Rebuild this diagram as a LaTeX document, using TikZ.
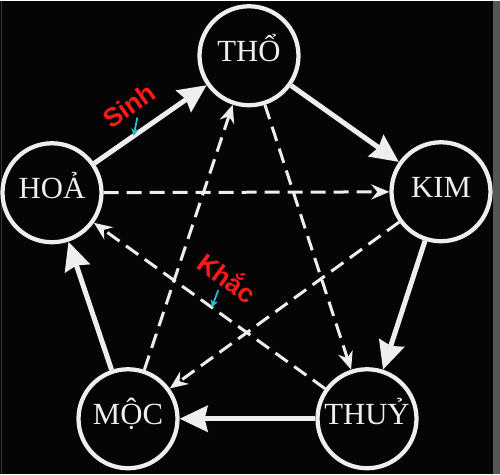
\documentclass[tikz,border=0pt]{standalone}
\usepackage{fontspec}
\setmainfont{Liberation Serif}
\newfontfamily\tagfont{Liberation Sans}
\usepackage{xcolor}
\usetikzlibrary{arrows.meta}

\definecolor{fg}{HTML}{EEEEEE}
\definecolor{bg}{HTML}{050505}
\definecolor{strip}{HTML}{565656}
\definecolor{tagred}{HTML}{FF1A1A}
\definecolor{pointcyan}{HTML}{22C4D6}

\begin{document}
\begin{tikzpicture}[x = 0.02cm, y = -0.02cm,
		element/.style = {circle, draw = fg, line width = 0.085cm, minimum size = 1.98cm, inner sep = 0pt,
			text = fg, text height = 0.66em, text depth = 0pt, font = \fontsize{17.5}{18}\selectfont},
		sinh/.style = {draw = fg, line width = 0.1cm, -{Stealth[length = 0.56cm, width = 0.52cm, inset = 0.06cm]}},
		khac/.style = {draw = fg, line width = 0.06cm, dash pattern = on 0.3cm off 0.16cm,
			-{Stealth[length = 0.36cm, width = 0.3cm]}},
		tag/.style = {text = tagred, inner sep = 2.5pt, font = \tagfont\bfseries\fontsize{15}{16}\selectfont},
		pointer/.style = {draw = pointcyan, line width = 0.035cm, -{Stealth[length = 0.15cm, width = 0.15cm]}}]
			\def\W{500};
			\def\H{473};

			\fill [bg] (0,0) rectangle (\W,\H);
			\fill [strip] (493,0) rectangle (\W,\H);
			\draw [strip!60!bg, line width = 0.03cm] (1.5,0) -- (1.5,\H);

			\node [element] (tho) at (249,55) {THỔ};
			\node [element] (kim) at (441,191) {KIM};
			\node [element] (thuy) at (367,418) {THUỶ};
			\node [element] (moc) at (128,418) {MỘC};
			\node [element] (hoa) at (52,192) {HOẢ};

			\begin{scope}
				\draw [sinh] (hoa) -- coordinate [pos = 0.35] (sinhpt) (tho);
				\draw [sinh] (tho) -- (kim);
				\draw [sinh] (kim) -- (thuy);
				\draw [sinh] (thuy) -- (moc);
				\draw [sinh] (moc) -- (hoa);
			\end{scope}

			\begin{scope}
				\draw [khac] (hoa) -- (kim);
				\draw [khac] (kim) -- (moc);
				\draw [khac] (moc) -- (tho);
				\draw [khac] (tho) -- (thuy);
				\draw [khac] (thuy) -- coordinate [pos = 0.49] (khacpt) (hoa);
			\end{scope}

			\node [tag, rotate = 35] (sinhtag) at (129,105) {Sinh};
			\node [tag, rotate = -36] (khactag) at (228,276) {Khắc};

			\draw [pointer] (sinhtag.south) -- (sinhpt);
			\draw [pointer] (khactag.south) -- (khacpt);
		\end{tikzpicture}
\end{document}
